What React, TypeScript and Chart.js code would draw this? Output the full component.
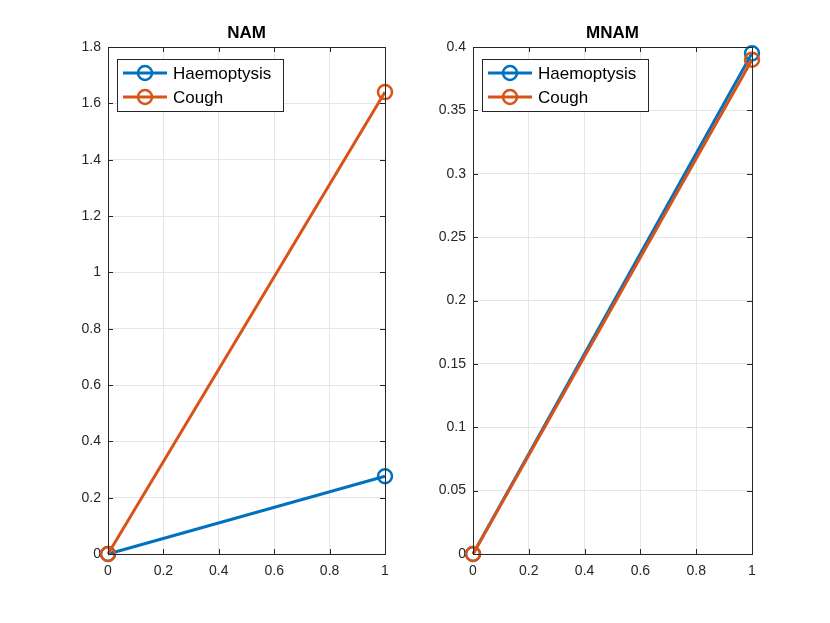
import { useEffect, useRef } from "react";
import { Chart, registerables, Plugin } from "chart.js";

Chart.register(...registerables);

const xValues = [0, 1];
const seriesNames = ["Haemoptysis", "Cough"];
const seriesColors = ["#0072BD", "#D95319"];

const namHaemoptysis = [0, 0.276];
const namCough = [0, 1.64];
const mnamHaemoptysis = [0, 0.395];
const mnamCough = [0, 0.39];

const namTicks = { max: 1.8, step: 0.2 };
const mnamTicks = { max: 0.4, step: 0.05 };

const FONT = "'Liberation Sans', Arial, sans-serif";
const AXIS_COLOR = "#262626";

const fmt = (v: number | string) => {
	const n = Number(v);
	return String(parseFloat(n.toFixed(4)));
};

// MATLAB style box, inward ticks, title and legend
const matlabPlugin: Plugin<"line"> = {
	id: "matlab",
	afterDraw(chart) {
		const { ctx, chartArea: a } = chart;
		const xs = chart.scales.x;
		const ys = chart.scales.y;
		ctx.save();
		ctx.strokeStyle = AXIS_COLOR;
		ctx.lineWidth = 1;
		ctx.strokeRect(a.left + 0.5, a.top + 0.5, a.right - a.left, a.bottom - a.top);
		const tl = 5;
		ctx.beginPath();
		xs.ticks.forEach((t) => {
			const px = Math.round(xs.getPixelForValue(t.value)) + 0.5;
			ctx.moveTo(px, a.bottom);
			ctx.lineTo(px, a.bottom - tl);
			ctx.moveTo(px, a.top);
			ctx.lineTo(px, a.top + tl);
		});
		ys.ticks.forEach((t) => {
			const py = Math.round(ys.getPixelForValue(t.value)) + 0.5;
			ctx.moveTo(a.left, py);
			ctx.lineTo(a.left + tl, py);
			ctx.moveTo(a.right, py);
			ctx.lineTo(a.right - tl, py);
		});
		ctx.stroke();
		ctx.restore();
	},
	afterDatasetsDraw(chart, _args, opts: any) {
		const { ctx, chartArea: a } = chart;
		ctx.save();
		// title
		ctx.fillStyle = "#000";
		ctx.font = `bold 17px ${FONT}`;
		ctx.textAlign = "center";
		ctx.textBaseline = "middle";
		ctx.fillText(opts.title, (a.left + a.right) / 2, 33);

		// legend
		const lx = a.left + 9;
		const ly = a.top + 12;
		const lw = 166;
		const lh = 52;
		ctx.fillStyle = "#fff";
		ctx.fillRect(lx, ly, lw, lh);
		ctx.strokeStyle = AXIS_COLOR;
		ctx.lineWidth = 1;
		ctx.strokeRect(lx + 0.5, ly + 0.5, lw, lh);
		chart.data.datasets.forEach((ds: any, i) => {
			const cy = ly + 14 + i * 24;
			ctx.strokeStyle = ds.borderColor;
			ctx.lineWidth = 3;
			ctx.beginPath();
			ctx.moveTo(lx + 6, cy);
			ctx.lineTo(lx + 50, cy);
			ctx.stroke();
			ctx.lineWidth = 2.5;
			ctx.beginPath();
			ctx.arc(lx + 28, cy, 7, 0, Math.PI * 2);
			ctx.stroke();
			ctx.fillStyle = "#000";
			ctx.font = `17px ${FONT}`;
			ctx.textAlign = "left";
			ctx.textBaseline = "middle";
			ctx.fillText(ds.label, lx + 56, cy + 1);
		});
		ctx.restore();
	},
};

type PanelProps = {
	title: string;
	series: number[][];
	yMax: number;
	yStep: number;
	left: number;
	yAxisWidth: number;
	rightPad: number;
};

const Panel = ({ title, series, yMax, yStep, left, yAxisWidth, rightPad }: PanelProps) => {
	const chartRef = useRef<HTMLCanvasElement | null>(null);

	useEffect(() => {
		if (!chartRef.current) return;
		const ctx = chartRef.current.getContext("2d");
		if (!ctx) return;

		const datasets = series.map((vals, i) => ({
			label: seriesNames[i],
			data: xValues.map((x, j) => ({ x, y: vals[j] })),
			borderColor: seriesColors[i],
			pointBorderColor: seriesColors[i],
			pointBackgroundColor: "rgba(0,0,0,0)",
			borderWidth: 3,
			pointRadius: 7,
			pointBorderWidth: 2.5,
			pointStyle: "circle" as const,
			clip: false as const,
			order: series.length - i,
			tension: 0,
		}));

		const tickFont = { family: FONT, size: 14 };

		const myChart = new Chart(ctx, {
			type: "line",
			data: { datasets },
			options: {
				responsive: false,
				animation: false,
				layout: { padding: { top: 47, right: rightPad, left: 0, bottom: 0 } },
				plugins: {
					legend: { display: false },
					title: { display: false },
					tooltip: { enabled: false },
					matlab: { title },
				} as any,
				scales: {
					x: {
						type: "linear",
						min: 0,
						max: 1,
						ticks: {
							stepSize: 0.2,
							padding: 9,
							color: AXIS_COLOR,
							font: tickFont,
							maxRotation: 0,
							callback: (v) => fmt(v),
						},
						grid: { color: "#e6e6e6", drawTicks: false },
						border: { display: false },
						afterFit: (scale) => {
							scale.height = 69;
						},
					},
					y: {
						type: "linear",
						min: 0,
						max: yMax,
						ticks: {
							stepSize: yStep,
							padding: 7,
							color: AXIS_COLOR,
							font: tickFont,
							callback: (v) => fmt(v),
						},
						grid: { color: "#e6e6e6", drawTicks: false },
						border: { display: false },
						afterFit: (scale) => {
							scale.width = yAxisWidth;
						},
					},
				},
			},
			plugins: [matlabPlugin],
		});

		return () => {
			myChart.destroy();
		};
	}, []);

	return (
		<div style={{ position: "absolute", left, top: 0, width: 415, height: 623 }}>
			<canvas ref={chartRef} width={415} height={623} />
		</div>
	);
};

const App = () => {
	return (
		<div style={{ position: "absolute", left: 0, top: 0, width: 830, height: 623, background: "#fff" }}>
			<Panel
				title="NAM"
				series={[namHaemoptysis, namCough]}
				yMax={namTicks.max}
				yStep={namTicks.step}
				left={0}
				yAxisWidth={108}
				rightPad={30}
			/>
			<Panel
				title="MNAM"
				series={[mnamHaemoptysis, mnamCough]}
				yMax={mnamTicks.max}
				yStep={mnamTicks.step}
				left={415}
				yAxisWidth={58}
				rightPad={78}
			/>
		</div>
	);
};

export default App;
